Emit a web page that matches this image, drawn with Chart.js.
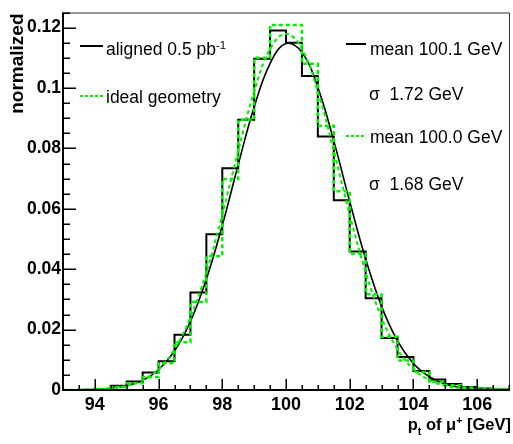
<!DOCTYPE html>
<html>
<head>
<meta charset="utf-8">
<script src="https://cdn.jsdelivr.net/npm/chart.js@4/dist/chart.umd.min.js"></script>
<style>
  html, body { margin: 0; padding: 0; background: #fff; }
</style>
</head>
<body>
<canvas id="graficoPt" width="513" height="444"></canvas>
<script>
// low edges of the 0.5 GeV bins
const binEdges = [93, 93.5, 94, 94.5, 95, 95.5, 96, 96.5, 97, 97.5, 98, 98.5, 99, 99.5,
                  100, 100.5, 101, 101.5, 102, 102.5, 103, 103.5, 104, 104.5, 105, 105.5, 106, 106.5];
const binWidth = 0.5;

// histogram contents (normalized)
const aligned = [0, 0, 0.0003, 0.0014, 0.0028, 0.0058, 0.0095, 0.0183, 0.0323, 0.0516, 0.0734, 0.0895, 0.1097, 0.119,
                 0.115, 0.104, 0.0839, 0.0628, 0.0459, 0.0304, 0.0172, 0.0109, 0.0063, 0.0035, 0.002, 0.001, 0.0005, 0.0002];
const ideal = [0, 0, 0.0003, 0.001, 0.0022, 0.0043, 0.0089, 0.0158, 0.0291, 0.0443, 0.0699, 0.0895, 0.110, 0.1209,
               0.1209, 0.108, 0.0875, 0.0658, 0.0451, 0.0317, 0.0176, 0.0098, 0.006, 0.0027, 0.0016, 0.0008, 0.0005, 0.0003];

// gauss fit curves
const fitX = [93.5, 94, 94.5, 95, 95.5, 96, 96.5, 97, 97.5, 98, 98.5, 99, 99.5,
              100, 100.5, 101, 101.5, 102, 102.5, 103, 103.5, 104, 104.5, 105, 105.5, 106, 106.5];
const fitAligned = [0.0001, 0.0002, 0.0006, 0.0014, 0.0032, 0.0067, 0.0129, 0.0227, 0.0367, 0.0545, 0.0746, 0.0937, 0.1081,
                    0.1147, 0.1118, 0.1002, 0.0825, 0.0624, 0.0434, 0.0277, 0.0163, 0.0088, 0.0044, 0.0020, 0.0008, 0.0003, 0.0001];
const fitIdeal = [0.0001, 0.0002, 0.0006, 0.0014, 0.0033, 0.0069, 0.0135, 0.0240, 0.0390, 0.0581, 0.0792, 0.0988, 0.1129,
                  0.1180, 0.1129, 0.0988, 0.0792, 0.0581, 0.0390, 0.0240, 0.0135, 0.0069, 0.0033, 0.0014, 0.0006, 0.0002, 0.0001];

const xTicks = [94, 96, 98, 100, 102, 104, 106];
const yTicks = [0, 0.02, 0.04, 0.06, 0.08, 0.1, 0.12];

const verde = '#00f000';
const fonte = '"Liberation Sans", Arial, sans-serif';

function histPoints(vals) {
    let pts = [];
    binEdges.forEach((lo, i) => {
        pts.push({x: lo, y: vals[i]}, {x: lo + binWidth, y: vals[i]});
    });
    return pts;
}

function curvePoints(vals) {
    return fitX.map((x, i) => ({x: x, y: vals[i]}));
}

// text with an optional super/subscript piece
function drawRich(ctx, parts, x, y, size, bold) {
    let cx = x;
    parts.forEach(p => {
        let s = p.small ? size * 0.65 : size;
        ctx.font = (bold ? 'bold ' : '') + s + 'px ' + fonte;
        let dy = p.sup ? -size * 0.35 : (p.sub ? size * 0.3 : 0);
        ctx.fillText(p.t, cx, y + dy);
        cx += ctx.measureText(p.t).width;
    });
    return cx;
}

function richWidth(ctx, parts, size, bold) {
    let w = 0;
    parts.forEach(p => {
        let s = p.small ? size * 0.65 : size;
        ctx.font = (bold ? 'bold ' : '') + s + 'px ' + fonte;
        w += ctx.measureText(p.t).width;
    });
    return w;
}

const rootStyle = {
    id: 'rootStyle',
    afterDraw(chart) {
        const {ctx, chartArea: a, scales: {x, y}} = chart;
        ctx.save();

        // frame
        ctx.strokeStyle = '#333';
        ctx.lineWidth = 1;
        ctx.beginPath();
        ctx.moveTo(a.left, a.top + 0.5);
        ctx.lineTo(a.right + 0.5, a.top + 0.5);
        ctx.lineTo(a.right + 0.5, a.bottom);
        ctx.stroke();

        ctx.strokeStyle = '#000';
        ctx.lineWidth = 2;
        ctx.beginPath();
        ctx.moveTo(a.left, a.top);
        ctx.lineTo(a.left, a.bottom);
        ctx.lineTo(a.right + 1, a.bottom);
        ctx.stroke();

        // ticks inside the frame
        ctx.lineWidth = 1.5;
        ctx.beginPath();
        for (let k = 0; k <= 25; k++) {
            let v = k * 0.005;
            let py = Math.round(y.getPixelForValue(v)) + 0.25;
            let len = (k % 4 === 0) ? 13 : 7;
            ctx.moveTo(a.left, py);
            ctx.lineTo(a.left + len, py);
        }
        for (let k = 0; k <= 28; k++) {
            let v = 93 + k * 0.5;
            let px = Math.round(x.getPixelForValue(v)) + 0.25;
            let len = (k % 4 === 2) ? 11 : 5;
            ctx.moveTo(px, a.bottom);
            ctx.lineTo(px, a.bottom - len);
        }
        ctx.stroke();

        // axis titles
        ctx.fillStyle = '#000';
        ctx.textBaseline = 'alphabetic';
        ctx.save();
        ctx.translate(23, a.top + 1);
        ctx.rotate(-Math.PI / 2);
        ctx.textAlign = 'right';
        ctx.font = 'bold 19px ' + fonte;
        ctx.fillText('normalized', 0, 0);
        ctx.restore();

        ctx.textAlign = 'left';
        let tituloX = [{t: 'p'}, {t: 't', small: true, sub: true}, {t: ' of μ'}, {t: '+', small: true, sup: true}, {t: ' [GeV]'}];
        let w = richWidth(ctx, tituloX, 16.5, true);
        drawRich(ctx, tituloX, 511 - w, 430, 16.5, true);

        // legends
        const legSize = 17.5;
        ctx.lineWidth = 2;
        ctx.strokeStyle = '#000';
        ctx.setLineDash([]);
        ctx.beginPath(); ctx.moveTo(80, 46); ctx.lineTo(103, 46); ctx.stroke();
        drawRich(ctx, [{t: 'aligned 0.5 pb'}, {t: '-1', small: true, sup: true}], 106, 55, legSize, false);

        ctx.strokeStyle = verde;
        ctx.setLineDash([3, 2]);
        ctx.beginPath(); ctx.moveTo(80, 96); ctx.lineTo(103, 96); ctx.stroke();
        drawRich(ctx, [{t: 'ideal geometry'}], 106, 103, legSize, false);

        ctx.strokeStyle = '#000';
        ctx.setLineDash([]);
        ctx.beginPath(); ctx.moveTo(346, 44); ctx.lineTo(366, 44); ctx.stroke();
        drawRich(ctx, [{t: 'mean 100.1 GeV'}], 370, 55, legSize, false);
        drawRich(ctx, [{t: 'σ  1.72 GeV'}], 369, 100, legSize, false);

        ctx.strokeStyle = verde;
        ctx.setLineDash([3, 2]);
        ctx.beginPath(); ctx.moveTo(346, 136); ctx.lineTo(366, 136); ctx.stroke();
        drawRich(ctx, [{t: 'mean 100.0 GeV'}], 370, 143, legSize, false);
        drawRich(ctx, [{t: 'σ  1.68 GeV'}], 369, 190, legSize, false);

        ctx.restore();
    }
};

let graficoPt = document.getElementById('graficoPt').getContext('2d');
let pt = new Chart(graficoPt, {
    type: 'line',
    data: {
        datasets: [
            {
                label: 'fit ideal',
                data: curvePoints(fitIdeal),
                borderColor: verde,
                borderWidth: 2,
                borderDash: [4, 3],
                tension: 0.4,
                pointRadius: 0,
                fill: false,
                order: 0
            },
            {
                label: 'ideal geometry',
                data: histPoints(ideal),
                borderColor: verde,
                borderWidth: 2.5,
                borderDash: [4, 3],
                tension: 0,
                pointRadius: 0,
                fill: false,
                order: 1
            },
            {
                label: 'fit aligned',
                data: curvePoints(fitAligned),
                borderColor: '#000',
                borderWidth: 1.6,
                tension: 0.4,
                pointRadius: 0,
                fill: false,
                order: 2
            },
            {
                label: 'aligned 0.5 pb-1',
                data: histPoints(aligned),
                borderColor: '#000',
                borderWidth: 2,
                tension: 0,
                pointRadius: 0,
                fill: false,
                order: 3
            }
        ]
    },
    options: {
        responsive: false,
        devicePixelRatio: 1,
        animation: false,
        layout: { padding: { top: 7, right: 4, left: 0, bottom: 0 } },
        plugins: { legend: { display: false }, tooltip: { enabled: false } },
        scales: {
            x: {
                type: 'linear',
                min: 93,
                max: 107,
                grid: { display: false, drawTicks: false },
                border: { display: false },
                afterBuildTicks: s => { s.ticks = xTicks.map(v => ({value: v})); },
                afterFit: s => { s.height = 54; },
                ticks: {
                    autoSkip: false,
                    maxRotation: 0,
                    padding: 4,
                    color: '#000',
                    font: { family: fonte, size: 18, weight: 'bold' },
                    callback: v => String(v)
                }
            },
            y: {
                min: 0,
                max: 0.125,
                grid: { display: false, drawTicks: false },
                border: { display: false },
                afterBuildTicks: s => { s.ticks = yTicks.map(v => ({value: v})); },
                afterFit: s => { s.width = 63; },
                ticks: {
                    padding: 2,
                    color: '#000',
                    font: { family: fonte, size: 17.5, weight: 'bold' },
                    callback: v => String(+v.toFixed(3))
                }
            }
        }
    },
    plugins: [rootStyle]
});
</script>
</body>
</html>
